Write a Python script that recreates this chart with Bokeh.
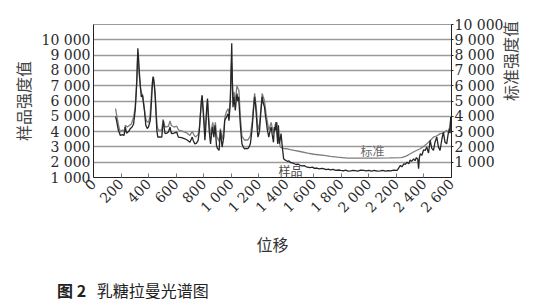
import math
from bokeh.plotting import figure
from bokeh.models import Range1d, LinearAxis, FixedTicker, Label, Div
from bokeh.layouts import column
from bokeh.embed import file_html
from bokeh.resources import INLINE

# ---- data ----
sample_x = [160, 168, 180, 195, 210, 222, 231, 240, 255, 267, 280, 291, 303, 310, 315, 322, 327, 332, 340, 347,
            356, 362, 370, 380, 390, 399, 412, 418, 424, 430, 435, 442, 448, 455, 460, 467, 480, 496, 502, 508,
            514, 520, 532, 544, 556, 562, 568, 585, 604, 616, 640, 664, 680, 700, 710, 717, 725, 736, 748, 760,
            768, 777, 783, 789, 795, 801, 809, 815, 821, 828, 834, 840, 850, 857, 864, 874, 883, 893, 900, 912,
            922, 928, 934, 946, 953, 965, 977, 984, 990, 994, 999, 1004, 1008, 1013, 1020, 1030, 1036, 1042, 1048, 1054,
            1060, 1066, 1072, 1078, 1090, 1097, 1110, 1121, 1130, 1139, 1146, 1153, 1160, 1170, 1176, 1182, 1188, 1194, 1200, 1206,
            1215, 1225, 1232, 1242, 1248, 1254, 1263, 1273, 1281, 1290, 1298, 1307, 1314, 1321, 1326, 1333, 1338, 1343, 1350, 1356,
            1362, 1368, 1374, 1381, 1390, 1399, 1410, 1420, 1430, 1445, 1458, 1470, 1485, 1500, 1515, 1530, 1545, 1555, 1570, 1590,
            1605, 1620, 1640, 1660, 1675, 1690, 1705, 1720, 1740, 1760, 1780, 1796, 1815, 1830, 1850, 1868, 1885, 1900, 1920, 1940,
            1964, 1980, 2000, 2020, 2040, 2060, 2084, 2100, 2120, 2140, 2160, 2180, 2205, 2215, 2229, 2240, 2255, 2265, 2277, 2290,
            2300, 2310, 2325, 2335, 2345, 2355, 2361, 2367, 2373, 2385, 2397, 2409, 2420, 2433, 2445, 2457, 2469, 2480, 2493, 2505,
            2517, 2530, 2541, 2553, 2565, 2575, 2585, 2590, 2594, 2598]
sample_y = [5000, 4700, 4100, 3750, 3800, 3750, 4300, 3900, 4000, 4190, 4300, 4500, 5390, 6500, 7360, 9440, 8800, 8020, 7000, 6270,
            6400, 5900, 5390, 4410, 4200, 4300, 4720, 5500, 6490, 7400, 7580, 7000, 6270, 5000, 4080, 3640, 3650, 3640, 4300, 4720,
            4200, 3860, 3900, 3970, 4300, 4000, 3860, 3900, 3970, 3640, 3600, 3530, 3450, 3300, 3500, 3640, 3400, 3200, 3250, 3430,
            4000, 5180, 6000, 6380, 5500, 4720, 3430, 4200, 5390, 6160, 5000, 4080, 3200, 3800, 4300, 3640, 4410, 3100, 2900, 2770,
            4080, 3500, 2990, 3640, 4720, 4940, 5160, 4720, 5500, 6050, 8000, 9770, 7500, 5600, 6270, 5390, 6000, 6490, 6000, 6270,
            5400, 4500, 3800, 3200, 2950, 2880, 2900, 2880, 3000, 3200, 3700, 4300, 5200, 6270, 5800, 5160, 4300, 3640, 3800, 4080,
            5200, 6270, 5900, 5600, 5100, 4720, 4100, 3640, 4000, 4300, 3800, 3300, 4300, 4080, 4630, 3750, 3200, 4410, 3210, 3500,
            3870, 3300, 2770, 2220, 2150, 2110, 2050, 2080, 1980, 1950, 1900, 1850, 1880, 1800, 1760, 1780, 1700, 1680, 1650, 1680,
            1600, 1620, 1560, 1600, 1570, 1520, 1550, 1500, 1530, 1470, 1490, 1460, 1440, 1480, 1420, 1430, 1470, 1450, 1420, 1480,
            1460, 1430, 1470, 1420, 1460, 1410, 1430, 1470, 1410, 1450, 1430, 1480, 1460, 1600, 1790, 1700, 1900, 1850, 2000, 1900,
            2150, 2050, 2220, 2100, 2300, 2200, 1570, 2300, 2550, 2450, 2800, 2770, 3000, 2600, 3430, 2900, 2770, 3300, 3640, 3000,
            2770, 3500, 3970, 3300, 3200, 3800, 4190, 3900, 4950, 4300]

standard_x = [160, 170, 182, 195, 210, 222, 231, 245, 260, 275, 291, 303, 312, 320, 326, 333, 342, 350, 358, 366,
              375, 385, 399, 410, 418, 424, 432, 440, 448, 456, 462, 470, 496, 505, 512, 522, 544, 556, 565, 585,
              604, 618, 640, 664, 680, 700, 710, 718, 728, 740, 760, 770, 778, 788, 798, 808, 818, 828, 838, 848,
              858, 866, 876, 885, 895, 912, 922, 934, 946, 955, 966, 978, 986, 994, 1002, 1006, 1012, 1020, 1030, 1042,
              1050, 1056, 1066, 1078, 1097, 1121, 1139, 1153, 1170, 1182, 1194, 1206, 1225, 1242, 1254, 1273, 1290, 1307, 1321, 1333,
              1343, 1350, 1356, 1365, 1380, 1400, 1430, 1458, 1500, 1555, 1600, 1675, 1720, 1771, 1843, 1900, 1964, 2050, 2150, 2238,
              2270, 2301, 2330, 2373, 2400, 2421, 2445, 2469, 2490, 2518, 2540, 2565, 2580, 2594, 2600]
standard_y = [4500, 4000, 3400, 2970, 3100, 3000, 3410, 3300, 3400, 3500, 3940, 4600, 6000, 7800, 7500, 6600, 5800, 5500, 5300, 4800,
              4000, 3700, 3600, 4000, 5000, 5900, 6600, 6200, 5500, 4200, 3400, 3100, 3100, 3800, 3500, 3300, 3350, 3700, 3400, 3300,
              3350, 3100, 3050, 2970, 2900, 2750, 2900, 3000, 2800, 2650, 2800, 3300, 4300, 5300, 4400, 3000, 3800, 5000, 3800, 2800,
              3200, 3600, 3000, 3600, 2700, 2350, 3200, 2500, 3000, 4000, 4300, 4500, 4100, 5300, 7500, 7000, 5200, 5600, 5000, 6000,
              5800, 5700, 4000, 2700, 2450, 2450, 2700, 3700, 5500, 4600, 3100, 3500, 5500, 5000, 4100, 3100, 3600, 2900, 3500, 3600,
              2600, 2400, 2000, 1950, 1900, 1880, 1820, 1770, 1700, 1600, 1520, 1440, 1380, 1330, 1270, 1270, 1270, 1270, 1280, 1300,
              1400, 1550, 1700, 1880, 2050, 2210, 2400, 2640, 2700, 2870, 2900, 3080, 2900, 3750, 3500]

x_ticks = list(range(0, 2601, 200))
left_ticks = list(range(1000, 10001, 1000))
right_ticks = list(range(1000, 10001, 1000))


def fmt(v):
    return f"{v // 1000} {v % 1000:03d}" if v >= 1000 else str(v)


NUM_FONT = "DejaVu Serif"
NUM_SIZE = "14px"
NUM_COLOR = "#2a2a2a"
CJK_FONT = "Noto Sans CJK SC"

p = figure(width=537, height=268, output_backend="svg", toolbar_location=None,
           x_range=Range1d(0, 2600), y_range=Range1d(1000, 11000),
           min_border_left=93, min_border_right=84, min_border_top=24, min_border_bottom=91)
p.extra_y_ranges = {"right": Range1d(0, 10000)}
p.background_fill_color = "white"
p.border_fill_color = "white"
p.outline_line_color = "#9a9a9a"
p.outline_line_width = 1

# grid
p.xgrid.visible = False
p.ygrid.ticker = FixedTicker(ticks=left_ticks)
p.ygrid.grid_line_color = "#9a9a9a"
p.ygrid.grid_line_width = 1.3

# x axis
xa = p.xaxis[0]
xa.ticker = FixedTicker(ticks=x_ticks)
xa.major_label_overrides = {t: fmt(t) for t in x_ticks}
xa.major_label_orientation = math.pi / 4
xa.major_label_text_font = NUM_FONT
xa.major_label_text_font_size = NUM_SIZE
xa.major_label_text_color = NUM_COLOR
xa.major_tick_in = 4
xa.major_tick_out = 0
xa.minor_tick_line_color = None
xa.axis_line_color = "#222222"
xa.major_tick_line_color = "#777777"
xa.major_label_standoff = 4
xa.axis_label = "位移"
xa.axis_label_text_font = CJK_FONT
xa.axis_label_text_font_size = "16px"
xa.axis_label_text_font_style = "normal"
xa.axis_label_text_color = "#333333"
xa.axis_label_standoff = 8

# left axis
ya = p.yaxis[0]
ya.ticker = FixedTicker(ticks=left_ticks)
ya.major_label_overrides = {t: fmt(t) for t in left_ticks}
ya.major_label_text_font = NUM_FONT
ya.major_label_text_font_size = NUM_SIZE
ya.major_label_text_color = NUM_COLOR
ya.major_tick_in = 0
ya.major_tick_out = 0
ya.minor_tick_line_color = None
ya.axis_line_color = "#222222"
ya.major_label_standoff = 3
ya.axis_label = "样品强度值"
ya.axis_label_text_font = CJK_FONT
ya.axis_label_text_font_size = "16px"
ya.axis_label_text_font_style = "normal"
ya.axis_label_text_color = "#444444"
ya.axis_label_standoff = 4

# right axis
ra = LinearAxis(y_range_name="right", ticker=FixedTicker(ticks=right_ticks))
ra.major_label_overrides = {t: fmt(t) for t in right_ticks}
ra.major_label_text_font = NUM_FONT
ra.major_label_text_font_size = NUM_SIZE
ra.major_label_text_color = NUM_COLOR
ra.major_tick_in = 0
ra.major_tick_out = 2
ra.minor_tick_line_color = None
ra.axis_line_color = "#222222"
ra.major_tick_line_color = "#222222"
ra.major_label_standoff = 1
ra.axis_label = "标准强度值"
ra.axis_label_text_font = CJK_FONT
ra.axis_label_text_font_size = "16px"
ra.axis_label_text_font_style = "normal"
ra.axis_label_text_color = "#444444"
ra.axis_label_standoff = 4
if "axis_label_orientation" in ra.properties():
    ra.axis_label_orientation = math.pi / 2
p.add_layout(ra, "right")

# lines
p.line(standard_x, standard_y, y_range_name="right", line_color="#7d7d7d", line_width=1.3)
p.line(sample_x, sample_y, line_color="#262626", line_width=1.3)

# in-plot labels (screen units relative to the frame)
p.add_layout(Label(x=279, y=27, x_units="screen", y_units="screen", text="标准",
                   text_font=CJK_FONT, text_font_size="12px", text_color="#6a6a6a",
                   text_align="center", text_baseline="middle"))
p.add_layout(Label(x=197, y=7, x_units="screen", y_units="screen", text="样品",
                   text_font=CJK_FONT, text_font_size="12px", text_color="#4a4a4a",
                   text_align="center", text_baseline="middle"))

# caption
cap = Div(text="<b>图&nbsp;2</b>&nbsp;&nbsp;&nbsp;乳糖拉曼光谱图", width=537, height=37, margin=(0, 0, 0, 0),
          styles={"font-family": CJK_FONT, "font-size": "16px", "color": "#222222",
                  "padding-left": "57px", "padding-top": "12px", "line-height": "20px"})

layout = column(p, cap, spacing=0, margin=(0, 0, 0, 0))
open("out.html", "w").write(file_html(layout, INLINE))
